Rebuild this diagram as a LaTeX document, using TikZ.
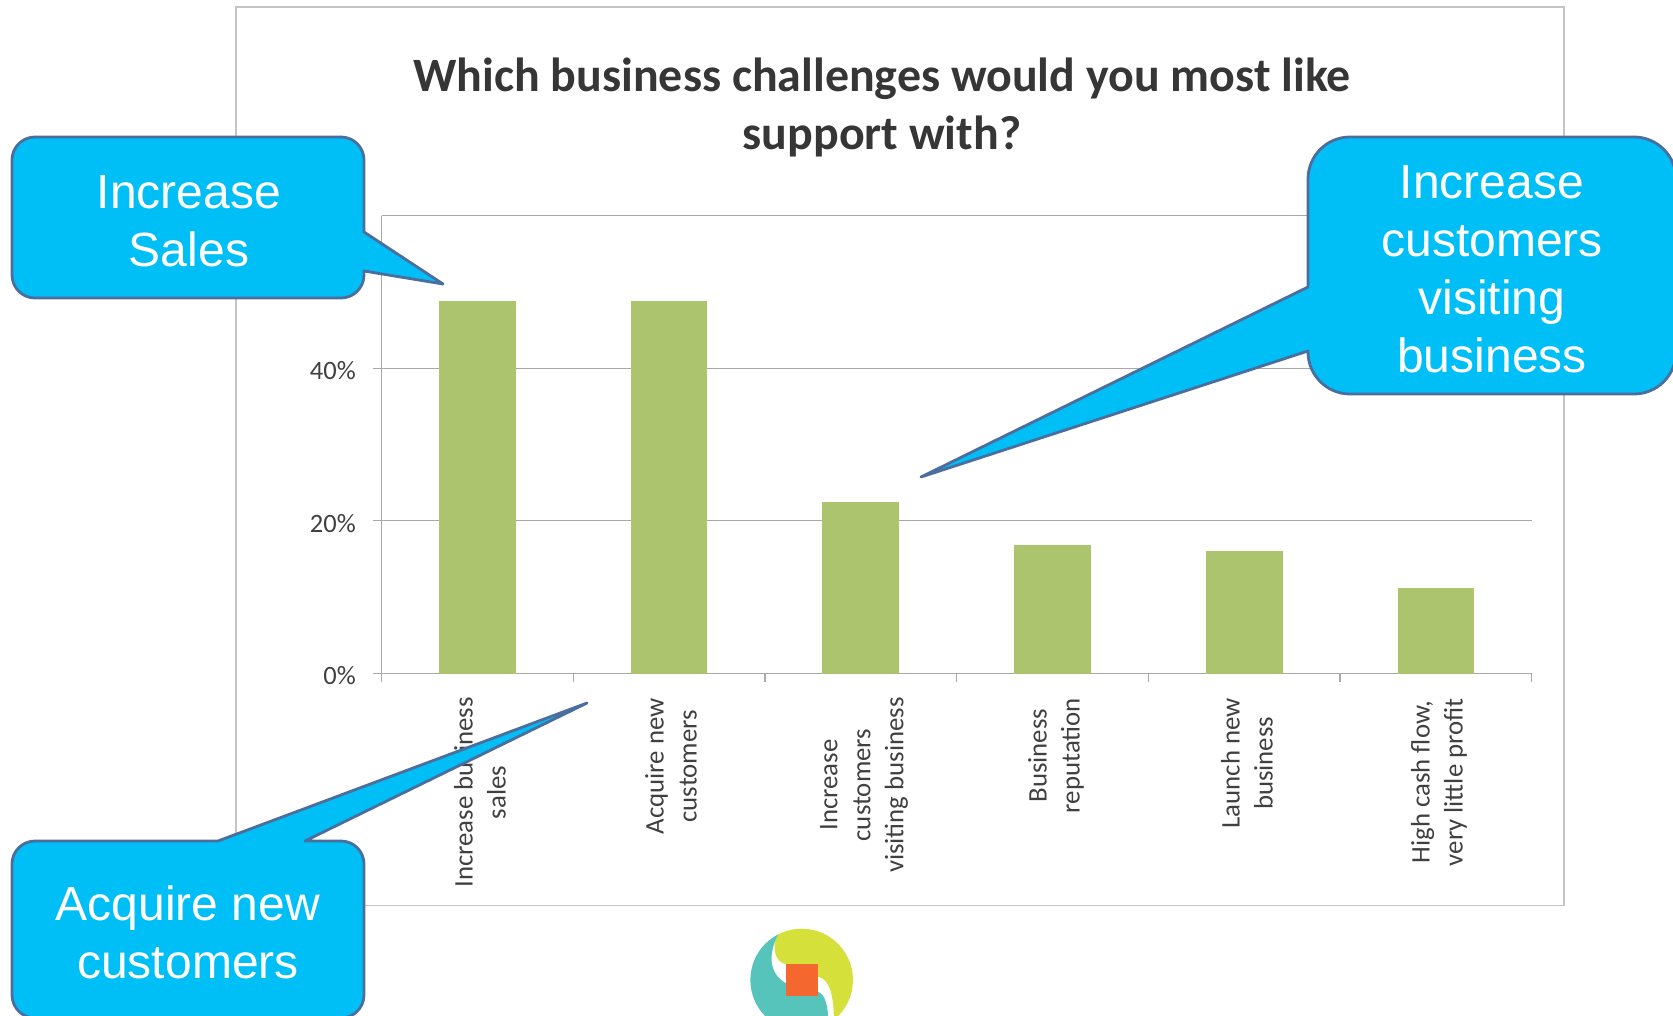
\documentclass[tikz,border=0pt]{standalone}
\usepackage{fontspec}
\setmainfont{Carlito}
\newfontfamily\arialfont{Liberation Sans}
\definecolor{calloutfill}{HTML}{00BEF6}
\definecolor{calloutedge}{HTML}{4A6F9F}
\definecolor{barfill}{HTML}{ABC46D}
\definecolor{gridgrey}{HTML}{A8A8A8}
\definecolor{framegrey}{HTML}{C4C4C4}
\definecolor{labelgrey}{HTML}{404040}
\definecolor{logoteal}{HTML}{57C4BC}
\definecolor{logoyellow}{HTML}{D6E03A}
\definecolor{logoorange}{HTML}{F4672F}
\tikzset{
  framebox/.style={draw=framegrey,line width=1.6pt},
  gridline/.style={draw=gridgrey,line width=1.3pt},
  chartbar/.style={fill=barfill,draw=none},
  ylabel/.style={anchor=east,inner sep=0pt,text=labelgrey,font=\fontsize{26.5}{30}\selectfont},
  catlabel/.style={rotate=90,anchor=east,inner sep=0pt,align=center,text=labelgrey,font=\fontsize{26.8}{33}\selectfont},
  titletext/.style={inner sep=0pt,align=center,text=labelgrey!85!black,font=\fontsize{47.9}{58}\selectfont\bfseries},
  callout/.style={fill=calloutfill,draw=calloutedge,line width=2.8pt,line join=round},
  callouttext/.style={inner sep=0pt,align=center,text=white,font=\arialfont\fontsize{48}{58}\selectfont},
}
\begin{document}
\begin{tikzpicture}[x=1pt,y=-1pt]
\useasboundingbox (0,0) rectangle (1673,1016);
\clip (0,0) rectangle (1673,1016);
\fill[white] (0,0) rectangle (1673,1016);
% frame
\draw[framebox] (236,7) rectangle (1564,905.5);
% title
\node[titletext] (title) at (882,107) {Which business challenges would you most like\\support with?};
% grid
\draw[gridline] (381.5,215.7) -- (1531.7,215.7);
\draw[gridline] (373,368.3) -- (1531.7,368.3);
\draw[gridline] (373,520.8) -- (1531.7,520.8);
\draw[gridline] (373,673.5) -- (1531.7,673.5);
\draw[gridline] (381.5,215.7) -- (381.5,681.5);
\foreach \xx in {573.2,765,956.7,1148.4,1340,1531.7}
  \draw[gridline] (\xx,673.5) -- (\xx,681.5);
% bars
\fill[chartbar] (439,301) rectangle (515.5,673.5);
\fill[chartbar] (630.5,301) rectangle (707,673.5);
\fill[chartbar] (822.3,501.5) rectangle (899,673.5);
\fill[chartbar] (1014,544.5) rectangle (1090.5,673.5);
\fill[chartbar] (1206,550.5) rectangle (1282.5,673.5);
\fill[chartbar] (1397.7,587.5) rectangle (1474,673.5);
% axis labels
\node[ylabel] (y40) at (356,371) {40\%};
\node[ylabel] (y20) at (356,524) {20\%};
\node[ylabel] (y0) at (356,676) {0\%};
\node[catlabel] (c1) at (480,697) {Increase business\\sales};
\node[catlabel] (c2) at (671,698) {Acquire new\\customers};
\node[catlabel] (c3) at (864,697) {Increase\\customers\\visiting business};
\node[catlabel] (c4) at (1056,698) {Business\\reputation};
\node[catlabel] (c5) at (1247,698) {Launch new\\business};
\node[catlabel] (c6) at (1439,698) {High cash flow,\\very little profit};
% logo
\begin{scope}[shift={(680,880)},x=0.3333pt,y=-0.3333pt]
  \begin{scope}
    \clip (365,300) circle[radius=51.3pt];
    \fill[logoyellow] (300,100) -- (800,100) -- (800,600) -- (440,600) .. controls (470,450) and (475,300) .. (413,290) -- (318,252) .. controls (285,250) and (270,195) .. (300,150) -- cycle;
    \fill[logoteal] (295,100) -- (100,100) -- (100,600) -- (430,600) .. controls (445,480) and (460,350) .. (413,335) -- (318,310) .. controls (280,290) and (255,240) .. (295,162) -- cycle;
  \end{scope}
  \fill[logoorange] (317,252) rectangle (413,348);
\end{scope}
% callouts
\draw[callout] (443,284) -- (364,232) [rounded corners=23pt] -- (364,137) -- (12,137) -- (12,298) -- (364,298) [sharp corners] -- (364,271) -- cycle;
\node[callouttext] (t1) at (189,221.5) {Increase\\Sales};
\draw[callout] (587,703) -- (218,841) [rounded corners=23pt] -- (12,841) -- (12,1018) -- (364,1018) -- (364,841) [sharp corners] -- (305,841) -- cycle;
\node[callouttext] (t2) at (188,932) {Acquire new\\customers};
\draw[callout] (921,477) -- (1308,287) [rounded corners=42pt] -- (1308,137) -- (1676,137) -- (1676,394) -- (1308,394) [sharp corners] -- (1308,351) -- cycle;
\node[callouttext] (t3) at (1492,269) {Increase\\customers\\visiting\\business};
\end{tikzpicture}
\end{document}
